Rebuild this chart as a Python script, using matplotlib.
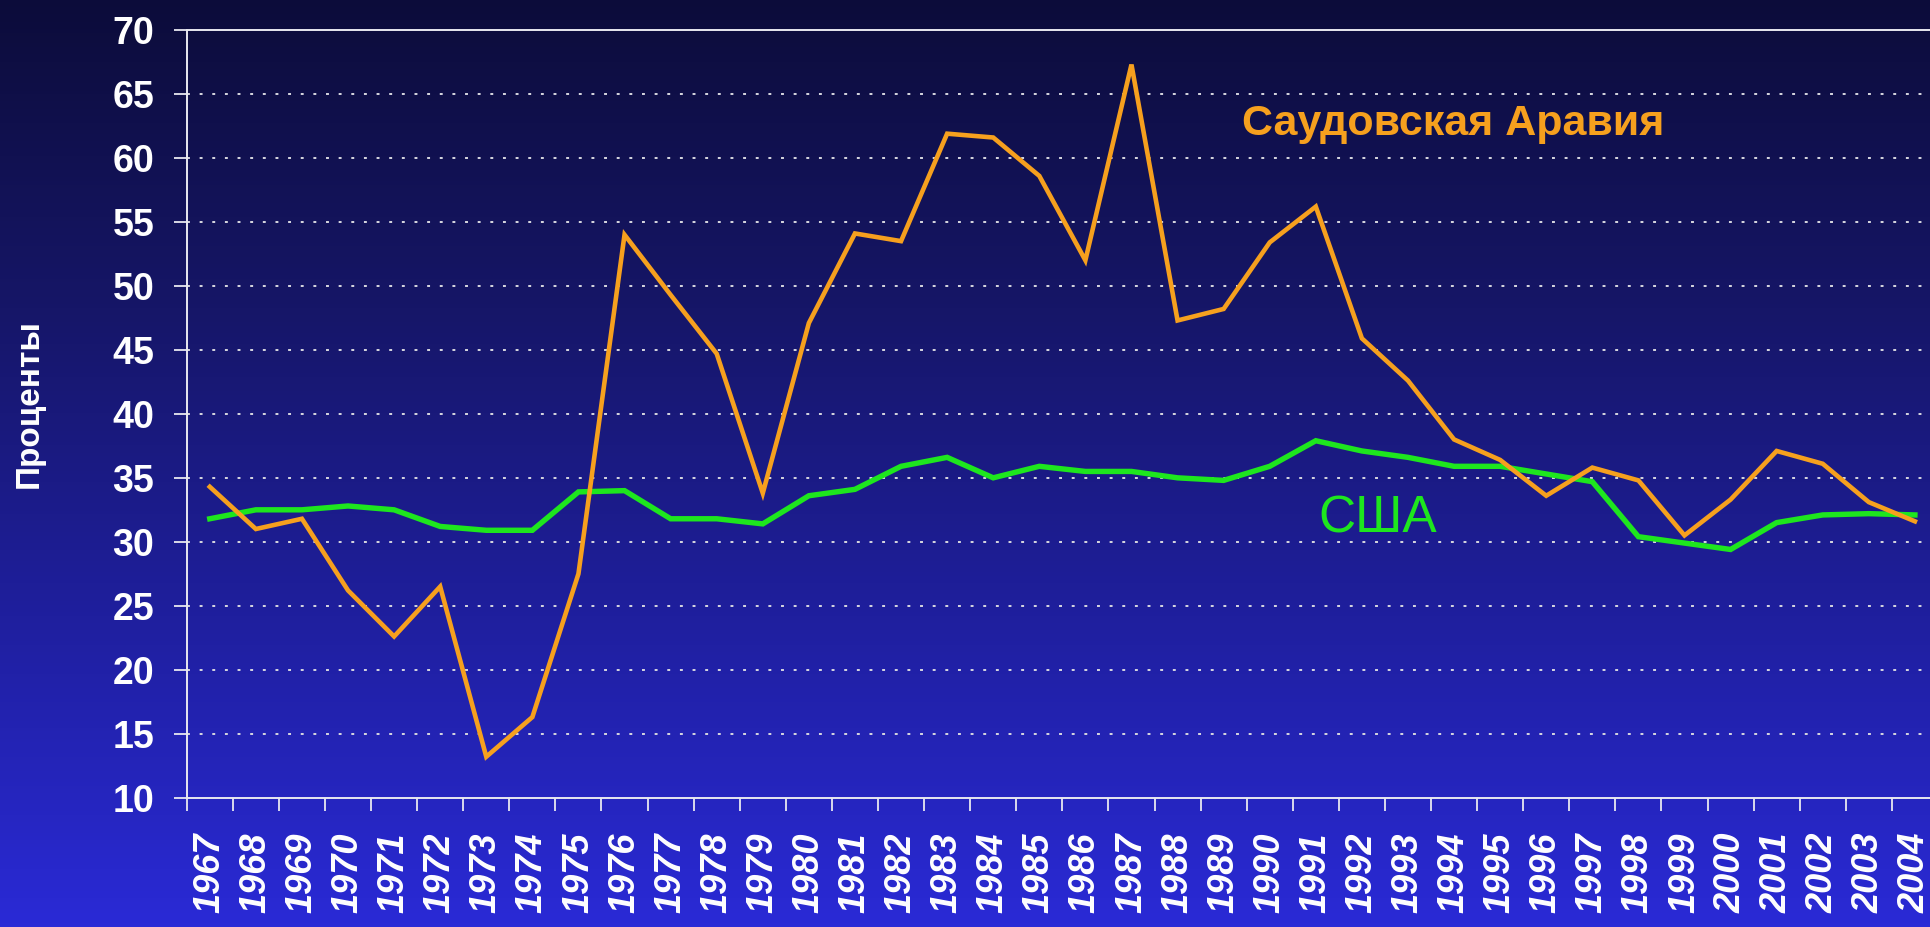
import numpy as np
import matplotlib
matplotlib.use("Agg")
import matplotlib.pyplot as plt
from matplotlib.colors import LinearSegmentedColormap

plt.rcParams['font.family'] = ['Liberation Sans', 'DejaVu Sans']

years = list(range(1967, 2005))

saudi = [34.3, 31.0, 31.8, 26.2, 22.6, 26.5, 13.2, 16.3, 27.5, 54.0,
         49.3, 44.7, 33.8, 47.1, 54.1, 53.5, 61.9, 61.6, 58.6, 52.0,
         67.3, 47.3, 48.2, 53.4, 56.2, 45.9, 42.6, 38.0, 36.4, 33.6,
         35.8, 34.8, 30.5, 33.3, 37.1, 36.1, 33.1, 31.6]

usa = [31.8, 32.5, 32.5, 32.8, 32.5, 31.2, 30.9, 30.9, 33.9, 34.0,
       31.8, 31.8, 31.4, 33.6, 34.1, 35.9, 36.6, 35.0, 35.9, 35.5,
       35.5, 35.0, 34.8, 35.9, 37.9, 37.1, 36.6, 35.9, 35.9, 35.3,
       34.7, 30.4, 29.9, 29.4, 31.5, 32.1, 32.2, 32.1]

y_ticks = list(range(10, 75, 5))

ORANGE = '#F6A01E'
GREEN = '#1EE61E'
AXIS = '#E8E8F0'

W, H, DPI = 1931, 927, 100
fig = plt.figure(figsize=(W / DPI, H / DPI), dpi=DPI)

# vertical background gradient, dark navy at the top, bright blue at the bottom
bg = fig.add_axes([0, 0, 1, 1], zorder=-10)
bg_cmap = LinearSegmentedColormap.from_list(
    'bg', ['#0c0c3a', '#161668', '#1f1f9e', '#2a2ad6'])
grad = np.linspace(0, 1, 256).reshape(-1, 1)
bg.imshow(grad, aspect='auto', cmap=bg_cmap, extent=[0, 1, 0, 1], origin='upper')
bg.set_axis_off()

ax = fig.add_axes([0.0967, 0.1395, 1.0036 - 0.0967, 0.9676 - 0.1395])
ax.set_facecolor('none')

x = np.arange(len(years))
ax.plot(x, usa, color=GREEN, lw=3.9, solid_joinstyle='miter', zorder=3)
ax.plot(x, saudi, color=ORANGE, lw=3.3, solid_joinstyle='miter', zorder=4)

ax.set_xlim(-0.5, len(years) - 0.5)
ax.set_ylim(10, 70)

ax.set_yticks(y_ticks)
ax.set_yticklabels([str(v) for v in y_ticks], fontsize=27, fontweight='bold',
                   color='white')
ax.tick_params(axis='y', direction='out', length=9.5, width=1.3, color=AXIS, pad=14)

# category labels sit between the tick marks
ax.set_xticks(x)
ax.set_xticklabels([str(y) for y in years], rotation=90, fontsize=26,
                   fontweight='bold', fontstyle='italic', color='white')
ax.tick_params(axis='x', which='major', length=0, pad=25)
ax.set_xticks(np.arange(-0.5, len(years), 1.0), minor=True)
ax.tick_params(axis='x', which='minor', direction='out', length=9.5, width=1.3,
               color=AXIS)

for yv in y_ticks[1:-1]:
    ax.axhline(yv, color='#D8D8E0', lw=1.4, dashes=(1.5, 5.0), zorder=1)

for side in ('left', 'bottom', 'top'):
    ax.spines[side].set_color(AXIS)
    ax.spines[side].set_linewidth(1.4)
ax.spines['right'].set_visible(False)

fig.text(29 / W, 1 - 404 / H, 'Проценты', rotation=90, fontsize=24,
         fontweight='bold', color='white', ha='center', va='center')

ax.text(22.4, 61.8, 'Саудовская Аравия', color=ORANGE, fontsize=31,
        fontweight='bold', ha='left', va='baseline')
ax.text(24.05, 30.7, 'США', color=GREEN, fontsize=37, ha='left', va='baseline')

fig.savefig('out.png', dpi=DPI)
